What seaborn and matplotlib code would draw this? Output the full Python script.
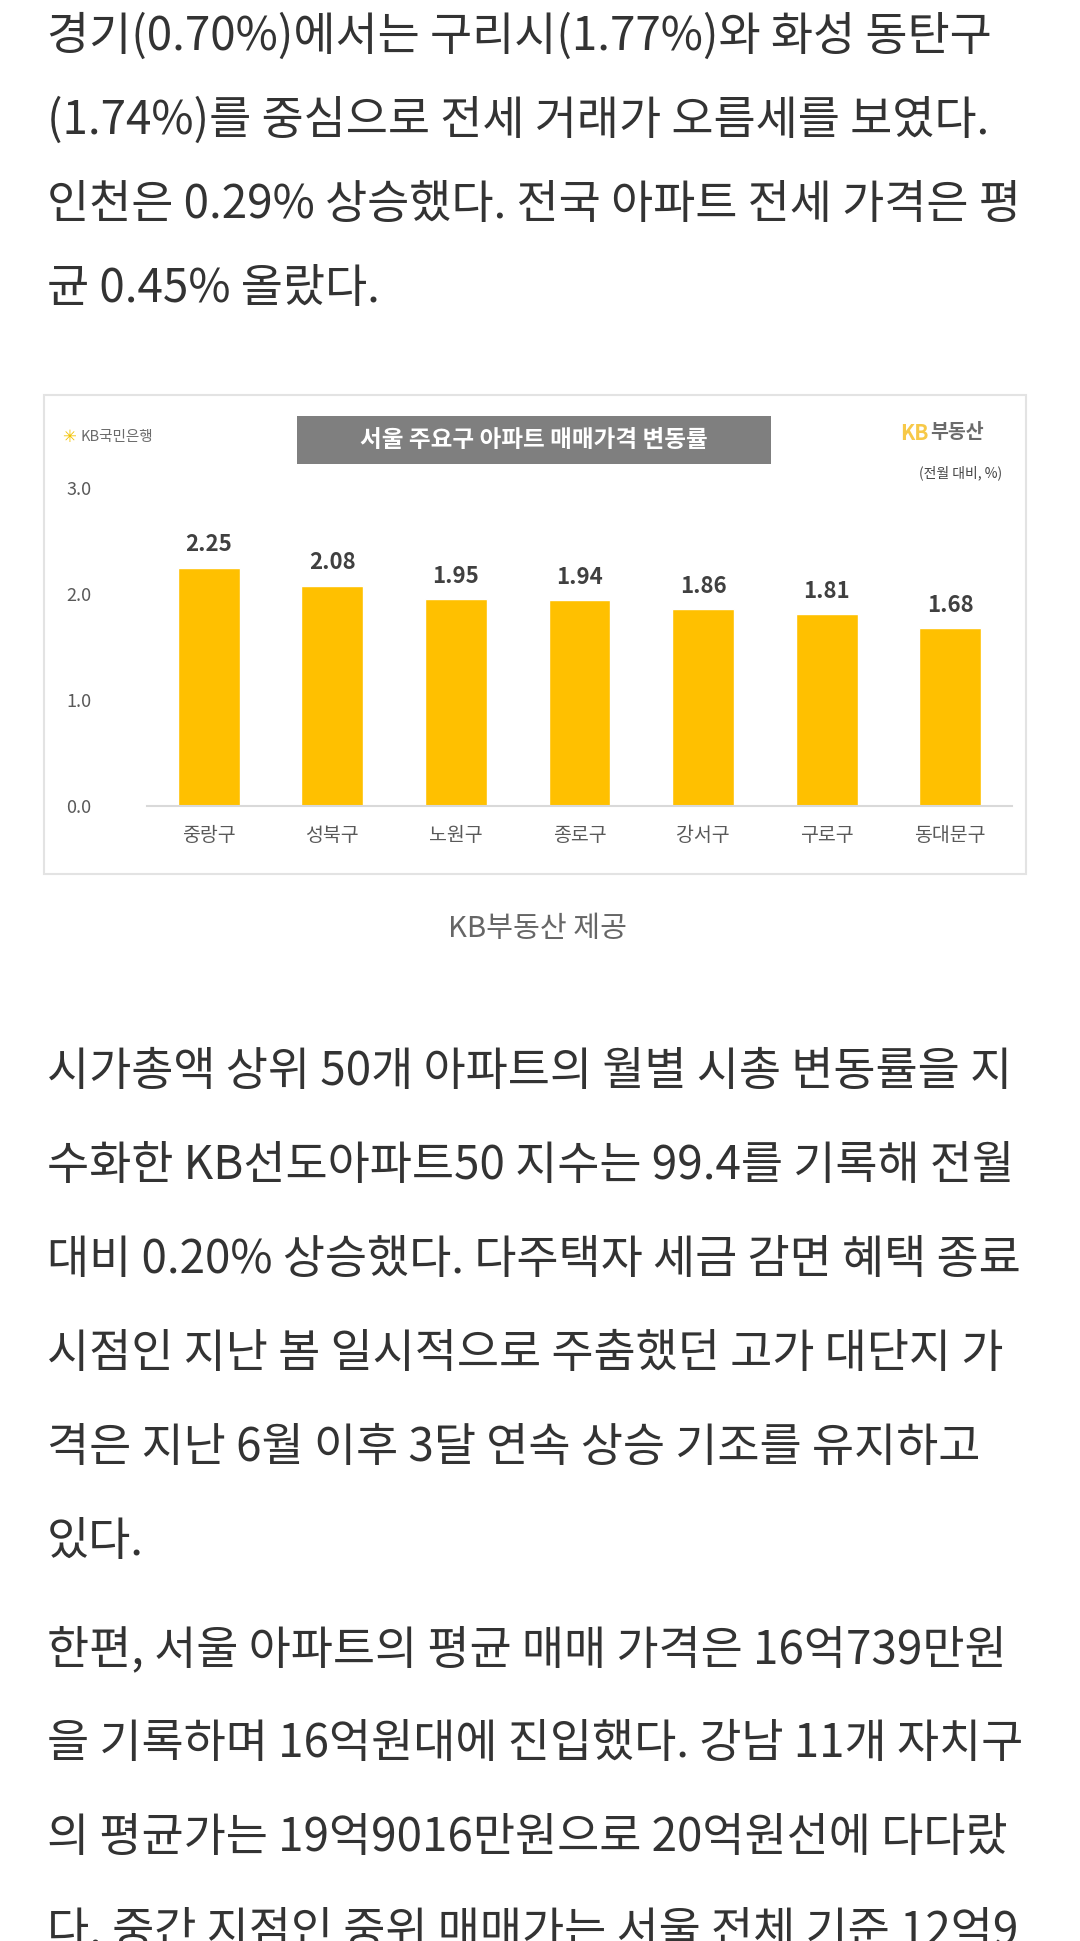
import pandas as pd
import matplotlib.pyplot as plt
import seaborn as sns
from matplotlib.patches import Rectangle

# chart data
districts = ['중랑구', '성북구', '노원구', '종로구', '강서구', '구로구', '동대문구']
change_pct = [2.25, 2.08, 1.95, 1.94, 1.86, 1.81, 1.68]
y_ticks = [0.0, 1.0, 2.0, 3.0]

para1 = ['경기(0.70%)에서는 구리시(1.77%)와 화성 동탄구',
         '(1.74%)를 중심으로 전세 거래가 오름세를 보였다.',
         '인천은 0.29% 상승했다. 전국 아파트 전세 가격은 평',
         '균 0.45% 올랐다.']
para2 = ['시가총액 상위 50개 아파트의 월별 시총 변동률을 지',
         '수화한 KB선도아파트50 지수는 99.4를 기록해 전월',
         '대비 0.20% 상승했다. 다주택자 세금 감면 혜택 종료',
         '시점인 지난 봄 일시적으로 주춤했던 고가 대단지 가',
         '격은 지난 6월 이후 3달 연속 상승 기조를 유지하고',
         '있다.']
para3 = ['한편, 서울 아파트의 평균 매매 가격은 16억739만원',
         '을 기록하며 16억원대에 진입했다. 강남 11개 자치구',
         '의 평균가는 19억9016만원으로 20억원선에 다다랐',
         '다. 중간 지점인 중위 매매가는 서울 전체 기준 12억9']

sns.set_theme(style='white')
plt.rcParams['font.family'] = ['Noto Sans CJK KR', 'DejaVu Sans']

W, H = 1080, 1941
fig = plt.figure(figsize=(W / 100, H / 100), dpi=100)
fig.patch.set_facecolor('white')

def fx(px):
    return px / W

def fy(py):
    return 1 - py / H

text_color = '#333333'
fs = 33

def draw_lines(lines, y_px, step):
    for i, line in enumerate(lines):
        fig.text(fx(47), fy(y_px + i * step), line, fontsize=fs, color=text_color,
                 va='center', ha='left')

draw_lines(para1, 37, 84)
draw_lines(para2, 1072, 94)
draw_lines(para3, 1650, 94)

# caption
fig.text(fx(537), fy(929), 'KB부동산 제공', fontsize=21, color='#666666',
         ha='center', va='center')

# chart frame
fig.patches.append(Rectangle((fx(44), fy(874)), fx(1026) - fx(44), fy(395) - fy(874),
                             transform=fig.transFigure, facecolor='none',
                             edgecolor='#e3e3e3', lw=1.5, zorder=0))
# title box
fig.patches.append(Rectangle((fx(297), fy(464)), fx(771) - fx(297), fy(416) - fy(464),
                             transform=fig.transFigure, facecolor='#7f7f7f',
                             edgecolor='none', zorder=1))
fig.text(fx(534), fy(440), '서울 주요구 아파트 매매가격 변동률', fontsize=17,
         color='white', fontweight='bold', ha='center', va='center')
fig.text(fx(62), fy(437), '✳', fontsize=12, color='#f2c200', ha='left', va='center',
         family=['DejaVu Sans'])
fig.text(fx(80), fy(437), 'KB국민은행', fontsize=10.5, color='#6b6b6b', ha='left', va='center')
fig.text(fx(900), fy(433), 'KB', fontsize=15, color='#f7c948', fontweight='bold',
         ha='left', va='center')
fig.text(fx(930), fy(433), '부동산', fontsize=14, color='#6b6b6b', fontweight='bold',
         ha='left', va='center')
fig.text(fx(1002), fy(473), '(전월 대비, %)', fontsize=10, color='#444444',
         ha='right', va='center')

# bar chart
ax = fig.add_axes([fx(147), fy(806), fx(1012) - fx(147), fy(488) - fy(806)])
df = pd.DataFrame({'district': districts, 'change': change_pct})
sns.barplot(data=df, x='district', y='change', color='#FFC000', width=0.5,
            saturation=1, ax=ax)
ax.set_ylim(0, 3)
ax.set_yticks(y_ticks)
ax.set_yticklabels([f'{t:.1f}' for t in y_ticks], color='#595959', fontsize=13)
ax.set_xlabel('')
ax.set_ylabel('')
ax.tick_params(axis='x', labelsize=14, labelcolor='#595959', length=0, pad=14)
ax.tick_params(axis='y', length=0, pad=40)
for s in ['top', 'right', 'left']:
    ax.spines[s].set_visible(False)
ax.spines['bottom'].set_color('#d9d9d9')
ax.spines['bottom'].set_linewidth(1.5)
ax.patch.set_alpha(0)
for c in ax.containers:
    ax.bar_label(c, labels=[f'{v:.2f}' for v in change_pct], padding=8,
                 fontsize=16, color='#404040', fontweight='bold')

fig.savefig('out.png', dpi=100)
